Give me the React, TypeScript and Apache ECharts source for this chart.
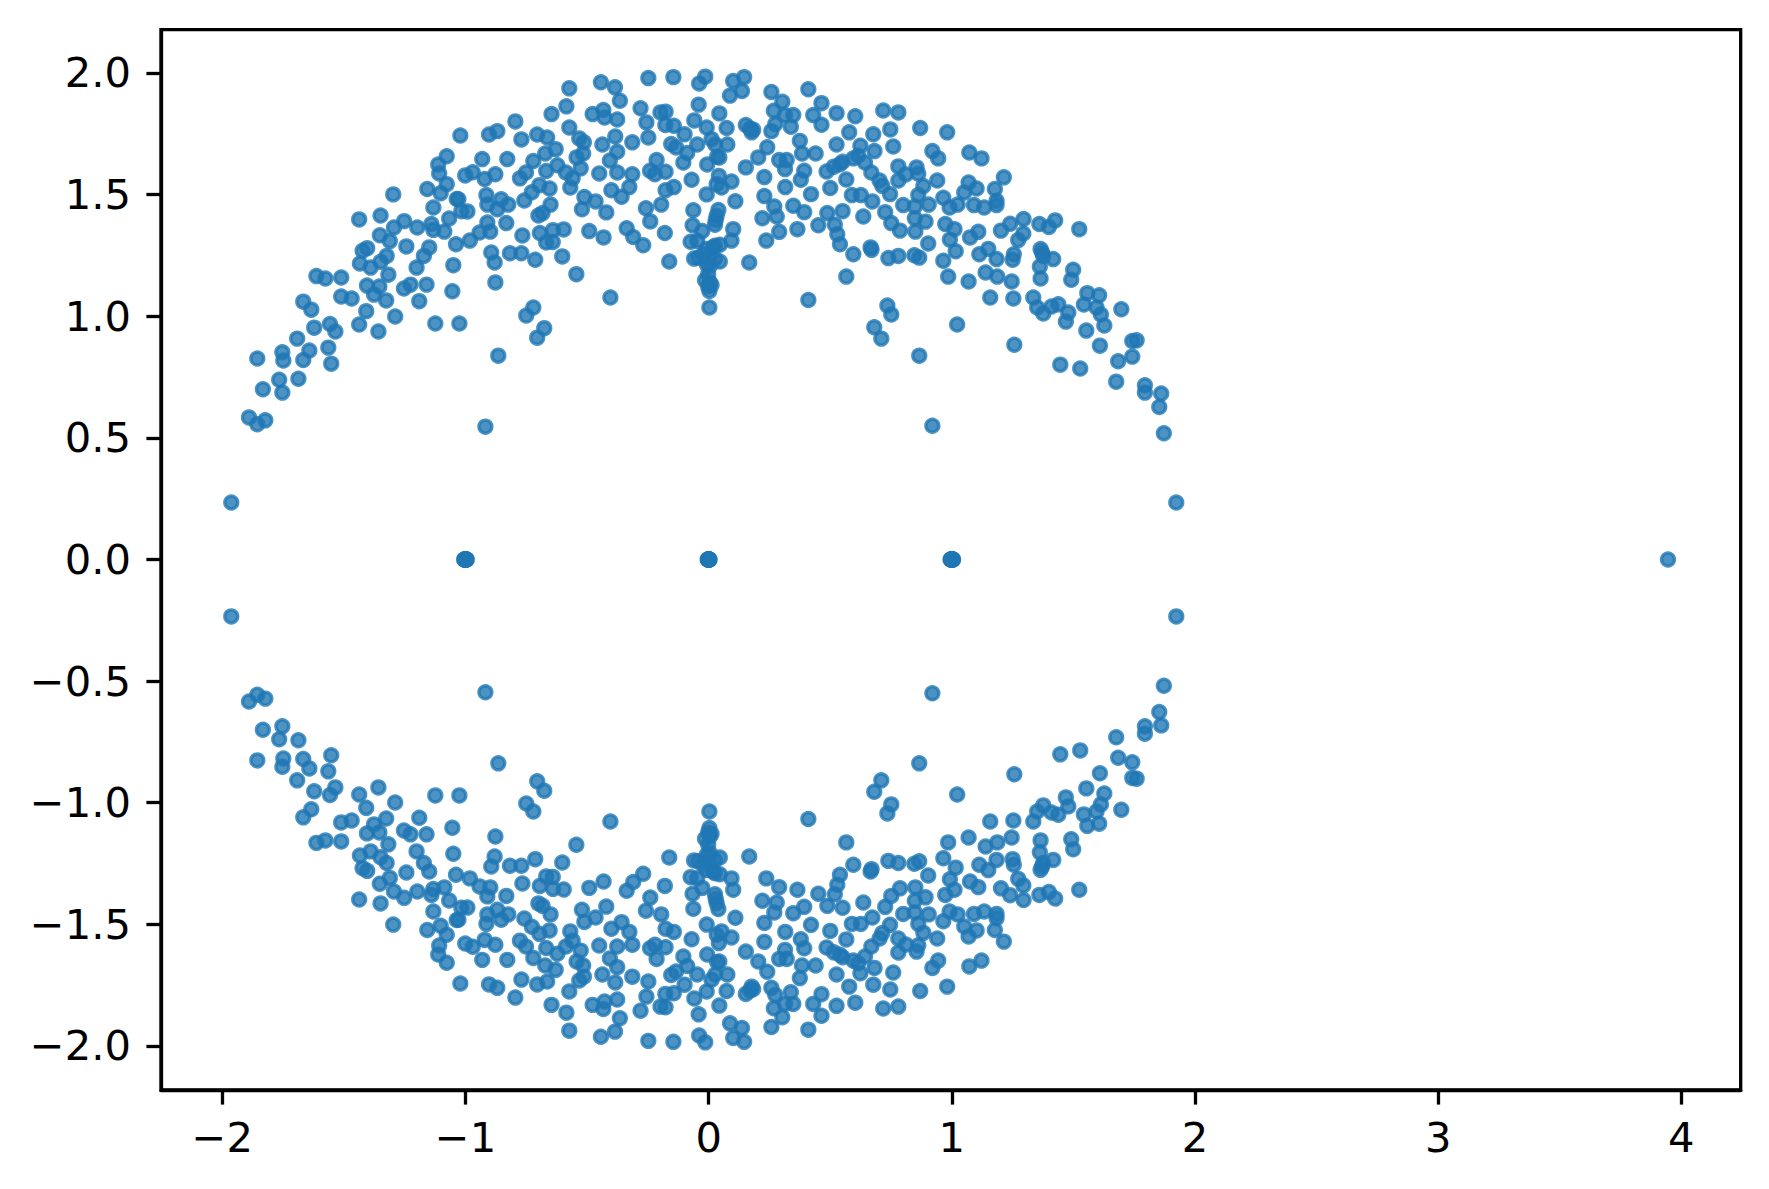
import React, { useEffect, useRef } from "react";
import * as echarts from "echarts";

const xTicks = [-2, -1, 0, 1, 2, 3, 4];
const yTicks = [-2, -1.5, -1, -0.5, 0, 0.5, 1, 1.5, 2];

const upperLeftArc = [
[-1.297,1.501],[-1.157,1.523],[-1.077,1.543],[-1.102,1.506],[-1.132,1.447],[-1.036,1.482],[-1.437,1.398],[-1.349,1.414],[-1.252,1.391],[-1.294,1.365],[-1.198,1.365],[-1.140,1.379],[-1.132,1.355],[-1.087,1.348],[-1.067,1.402],[-1.352,1.333],[-1.311,1.309],[-1.243,1.287],[-1.039,1.296],[-1.149,1.283],[-1.171,1.248],[-1.404,1.280],[-1.423,1.269],[-1.324,1.248],[-1.349,1.224],[-1.434,1.217],[-1.390,1.200],[-1.201,1.200],[-1.050,1.210],[-1.317,1.171],[-1.613,1.165],[-1.576,1.155],[-1.511,1.159],[-1.405,1.126],[-1.354,1.122],[-1.226,1.130],[-1.253,1.114],[-1.160,1.130],[-1.054,1.103],[-1.376,1.089],[-1.511,1.081],[-1.468,1.073],[-1.326,1.065],[-1.190,1.062],[-1.667,1.060],[-1.634,1.027],[-1.408,1.021],[-1.289,0.999],[-1.557,0.968],[-1.535,0.937],[-1.622,0.953],[-1.437,0.966],[-1.358,0.937],[-1.124,0.970],[-1.025,0.970],[-1.692,0.908],[-1.564,0.871],[-1.753,0.852],[-1.749,0.818],[-1.642,0.859],[-1.667,0.820],[-1.856,0.826],[-1.552,0.805],[-1.766,0.739],[-1.687,0.743],[-1.833,0.700],[-1.753,0.686],[-1.890,0.584],[-1.856,0.556],[-1.823,0.572],
];

const upperCrownLeft = [
[-0.573,1.937],[-0.443,1.962],[-0.385,1.941],[-0.365,1.886],[-0.585,1.863],[-0.646,1.831],[-0.477,1.831],[-0.433,1.848],[-0.428,1.817],[-0.376,1.809],[-0.795,1.801],[-0.573,1.776],[-1.021,1.743],[-0.903,1.747],[-0.869,1.761],[-0.770,1.727],[-0.705,1.747],[-0.664,1.735],[-0.532,1.731],[-0.513,1.715],[-0.384,1.739],[-0.437,1.706],[-0.629,1.687],[-0.672,1.669],[-0.376,1.676],[-0.543,1.653],[-0.516,1.669],[-1.077,1.658],[-1.112,1.624],[-1.108,1.587],[-0.931,1.646],[-0.828,1.646],[-0.721,1.638],[-0.406,1.640],[-0.622,1.621],[-0.526,1.608],[-0.376,1.591],[-0.450,1.587],[-0.751,1.591],[-0.668,1.597],[-0.587,1.591],[-0.970,1.592],[-1.001,1.579],[-0.877,1.584],[-0.921,1.564],[-0.776,1.567],[-0.559,1.567],[-0.696,1.539],[-0.569,1.529],[-0.654,1.525],[-0.727,1.510],[-0.400,1.518],[-0.914,1.498],[-0.511,1.490],[-1.029,1.481],[-0.853,1.481],[-0.758,1.476],[-0.465,1.472],[-0.910,1.459],[-0.824,1.459],[-0.650,1.459],[-0.869,1.440],[-0.521,1.440],[-1.017,1.432],[-0.992,1.431],[-0.421,1.427],[-0.683,1.424],[-0.700,1.414],[-0.910,1.385],[-0.832,1.383],[-0.942,1.344],[-0.898,1.348],[-0.640,1.354],[-0.596,1.357],[-0.694,1.342],[-0.491,1.350],[-0.432,1.324],[-0.766,1.332],[-0.982,1.311],[-0.668,1.303],[-0.641,1.305],[-0.894,1.262],[-0.817,1.259],[-0.770,1.259],[-0.713,1.232],[-0.602,1.246],
];

const upperInnerLeft = [
[-0.880,1.221],[-0.544,1.173],[-0.877,1.139],[-0.404,1.077],[-0.721,1.036],[-0.750,1.003],[-0.676,0.951],[-0.705,0.912],[-0.865,0.838],[-0.918,0.546],
];

const upperCrownCentre = [
[-0.248,1.979],[-0.145,1.983],[-0.014,1.985],[-0.039,1.957],[0.101,1.967],[0.146,1.983],[0.137,1.926],[0.088,1.907],[0.258,1.922],[0.410,1.933],[0.303,1.882],[0.464,1.876],[-0.041,1.870],[-0.280,1.855],[0.268,1.845],[-0.198,1.838],[-0.177,1.841],[0.044,1.834],[0.314,1.827],[0.348,1.827],[0.430,1.827],[0.526,1.835],[-0.256,1.797],[-0.059,1.805],[-0.178,1.786],[-0.143,1.783],[-0.008,1.776],[0.074,1.774],[0.153,1.786],[0.183,1.767],[0.170,1.772],[0.177,1.756],[0.274,1.790],[0.338,1.779],[0.464,1.787],[0.258,1.761],[-0.248,1.735],[-0.099,1.748],[0.012,1.728],[0.375,1.721],[-0.314,1.715],[-0.154,1.708],[-0.134,1.694],[-0.047,1.706],[0.027,1.706],[0.077,1.706],[0.241,1.695],[0.526,1.706],[-0.088,1.671],[0.384,1.669],[0.440,1.669],[0.204,1.653],[0.035,1.656],[0.044,1.653],[-0.214,1.642],[-0.104,1.632],[-0.006,1.624],[0.290,1.642],[0.321,1.642],[0.314,1.605],[0.153,1.612],[-0.241,1.598],[-0.221,1.584],[-0.177,1.594],[-0.314,1.584],[0.485,1.595],[0.515,1.615],[0.540,1.625],[0.393,1.598],[0.379,1.561],[0.229,1.572],[0.042,1.577],[0.094,1.554],[-0.070,1.561],[0.033,1.543],[0.053,1.529],[0.315,1.531],[0.500,1.527],[-0.326,1.531],[-0.143,1.531],[-0.177,1.518],[-0.358,1.491],[-0.008,1.501],[0.110,1.473],[0.229,1.494],[0.421,1.502],[0.270,1.451],[0.348,1.454],[0.393,1.428],[0.488,1.424],[-0.195,1.459],[-0.258,1.444],[-0.063,1.436],[0.040,1.437],[0.033,1.413],[0.029,1.395],[0.026,1.376],[0.280,1.410],[0.221,1.403],[-0.240,1.390],[0.451,1.374],[0.519,1.376],[-0.066,1.374],[-0.337,1.362],[0.365,1.358],[-0.310,1.326],[-0.180,1.342],[0.101,1.358],[0.290,1.347],[-0.026,1.350],[0.094,1.311],[0.529,1.337],[0.540,1.296],[-0.269,1.292],[0.237,1.311],[-0.074,1.306],[-0.047,1.310],
];

const upperSpike = [
[0.046,1.294],[0.019,1.283],[-0.008,1.276],[-0.043,1.241],[-0.060,1.237],[0.000,1.241],[0.026,1.235],[0.046,1.225],[-0.008,1.214],[0.005,1.207],[-0.002,1.173],[-0.015,1.148],[0.005,1.139],[-0.002,1.122],[0.003,1.104],[0.012,1.128],[0.003,1.036],[-0.162,1.225],[0.167,1.221],[0.410,1.067],[0.026,1.290],[-0.022,1.255],
];

const upperRightArc = [
[0.603,1.822],[0.718,1.846],[0.780,1.838],[0.578,1.756],[0.677,1.748],[0.747,1.768],[0.870,1.774],[0.981,1.756],[0.624,1.701],[0.682,1.679],[0.759,1.698],[0.615,1.660],[0.595,1.649],[0.643,1.632],[0.920,1.679],[0.944,1.649],[1.072,1.673],[1.122,1.649],[0.551,1.635],[0.780,1.616],[0.855,1.612],[0.862,1.586],[0.669,1.591],[0.811,1.583],[1.214,1.571],[0.780,1.558],[0.703,1.558],[0.940,1.558],[0.566,1.562],[1.069,1.550],[0.714,1.536],[0.883,1.535],[1.102,1.525],[1.177,1.523],[1.051,1.509],[0.746,1.502],[0.589,1.498],[0.626,1.498],[0.673,1.472],[0.862,1.498],[0.965,1.487],[1.184,1.475],[1.184,1.457],[0.800,1.457],[0.848,1.451],[0.905,1.459],[1.024,1.459],[0.991,1.447],[1.091,1.457],[1.133,1.447],[0.551,1.432],[0.726,1.428],[0.636,1.410],[0.848,1.403],[0.892,1.389],[0.751,1.383],[1.425,1.394],[1.295,1.400],[1.240,1.380],[1.360,1.379],[1.399,1.367],[0.973,1.379],[1.011,1.358],[1.202,1.352],[0.787,1.352],[0.850,1.348],[1.109,1.347],[1.075,1.324],[1.294,1.340],[1.273,1.313],[0.992,1.315],[0.903,1.299],[0.666,1.283],[0.670,1.273],[0.595,1.255],[1.016,1.267],[1.150,1.277],[1.113,1.255],[1.365,1.276],[1.371,1.262],[1.255,1.255],[0.739,1.239],[0.780,1.248],[0.846,1.251],[0.866,1.241],[1.184,1.235],[1.417,1.235],[0.965,1.228],
];

const upperInnerRight = [
[0.566,1.163],[0.985,1.163],[1.069,1.143],[1.139,1.180],[1.187,1.163],[1.246,1.143],[1.250,1.232],[1.362,1.204],[1.365,1.155],[1.376,1.248],[1.158,1.077],[1.253,1.073],[1.335,1.077],[1.351,1.036],[1.376,1.011],[1.410,1.040],[1.438,1.049],[1.479,1.015],[1.469,0.978],[0.735,1.044],[0.751,1.007],[0.681,0.955],[0.710,0.908],[1.022,0.966],[1.257,0.883],[0.866,0.838],[1.446,0.801],[0.920,0.550],
];

const upperFarRight = [
[1.524,1.358],[1.499,1.191],[1.491,1.150],[1.557,1.095],[1.606,1.086],[1.543,1.048],[1.595,1.036],[1.613,1.007],[1.697,1.029],[1.627,0.962],[1.553,0.941],[1.609,0.879],[1.742,0.898],[1.760,0.901],[1.742,0.834],[1.684,0.815],[1.676,0.731],[1.794,0.716],[1.794,0.686],[1.861,0.682],[1.853,0.627],[1.872,0.519],[1.528,0.785],[1.923,0.234],[-1.963,0.234],
];

const realAxisX = [
-1.005,-1.002,-1,-1,-1,-1,-1,-0.998,-0.995,-1.004,-0.996,-1,-1,-1,
-0.004,-0.002,0,0,0,0,0,0.002,0.004,0,0,0,
1.005,1.002,1,1,1,1,1,0.998,0.995,1.004,0.996,1,1,1,
3.945,
];

const upperPoints = [
  ...upperLeftArc, ...upperCrownLeft, ...upperInnerLeft, ...upperCrownCentre,
  ...upperSpike, ...upperRightArc, ...upperInnerRight, ...upperFarRight,
];
// The eigenvalue cloud is a conjugate-symmetric set: every point has its mirror below the axis.
const lowerPoints = upperPoints.map(([x, y]) => [x, -y]);
const axisPoints = realAxisX.map((x) => [x, 0]);

const FONT = "DejaVu Sans";
const minus = (s: string) => s.replace("-", "\u2212");

export default function App() {
  const ref = useRef<HTMLDivElement>(null);
  useEffect(() => {
    const chart = echarts.init(ref.current!, undefined, { renderer: "svg" });
    chart.setOption({
      animation: false,
      backgroundColor: "#ffffff",
      grid: {
        show: true, left: 161, right: 28.3, top: 29.7, bottom: 99,
        borderColor: "#000", borderWidth: 3.3, backgroundColor: "transparent",
      },
      xAxis: {
        type: "value",
        min: -2.252,
        max: 4.244,
        splitLine: { show: false },
        axisLine: { show: true, onZero: false, lineStyle: { color: "#000", width: 3.3 } },
        axisTick: { show: true, length: 14.6, customValues: xTicks, lineStyle: { color: "#000", width: 3.3 } },
        axisLabel: {
          color: "#000", fontFamily: FONT, fontSize: 41.67, margin: 26,
          customValues: xTicks,
          formatter: (v: number) => minus(String(v)),
        },
      },
      yAxis: {
        type: "value",
        min: -2.181,
        max: 2.178,
        splitLine: { show: false },
        axisLine: { show: true, onZero: false, lineStyle: { color: "#000", width: 3.3 } },
        axisTick: { show: true, length: 14.6, customValues: yTicks, lineStyle: { color: "#000", width: 3.3 } },
        axisLabel: {
          color: "#000", fontFamily: FONT, fontSize: 41.67, margin: 30,
          customValues: yTicks,
          formatter: (v: number) => minus(v.toFixed(1)),
        },
      },
      series: [
        {
          type: "scatter",
          data: [...upperPoints, ...lowerPoints, ...axisPoints],
          symbol: "circle",
          symbolSize: 13,
          clip: false,
          itemStyle: {
            color: "rgba(31,119,180,0.8)",
            borderColor: "rgba(31,119,180,0.8)",
            borderWidth: 3.3,
            opacity: 1,
          },
          emphasis: { disabled: true },
          silent: true,
        },
      ],
    });
    return () => chart.dispose();
  }, []);
  return (
    <div
      ref={ref}
      style={{ position: "fixed", left: 0, top: 0, width: 1769, height: 1189 }}
    />
  );
}
